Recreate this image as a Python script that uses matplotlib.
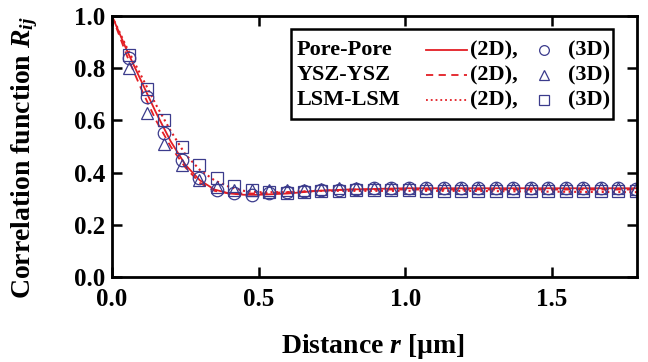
import numpy as np
import matplotlib
matplotlib.use("Agg")
import matplotlib.pyplot as plt
from matplotlib.patches import Rectangle

plt.rcParams['font.family'] = ['Liberation Serif', 'DejaVu Serif']
plt.rcParams['font.weight'] = 'bold'
plt.rcParams['mathtext.fontset'] = 'custom'
plt.rcParams['mathtext.it'] = 'Liberation Serif:italic:bold'
plt.rcParams['mathtext.rm'] = 'Liberation Serif:bold'

# 2D lines
r_line = [0.0, 0.05, 0.10, 0.15, 0.20, 0.25, 0.30, 0.35, 0.40, 0.45, 0.50, 0.60, 0.70, 0.80, 1.00, 1.20, 1.40, 1.60, 1.79]
pore_2d = [1.0, 0.87, 0.75, 0.63, 0.52, 0.43, 0.37, 0.335, 0.32, 0.315, 0.315, 0.32, 0.33, 0.335, 0.34, 0.34, 0.34, 0.34, 0.34]
ysz_2d = [1.0, 0.85, 0.72, 0.60, 0.50, 0.42, 0.36, 0.33, 0.32, 0.32, 0.32, 0.325, 0.33, 0.335, 0.335, 0.335, 0.335, 0.335, 0.335]
lsm_2d = [1.0, 0.88, 0.77, 0.66, 0.56, 0.47, 0.41, 0.37, 0.345, 0.33, 0.325, 0.325, 0.33, 0.33, 0.33, 0.33, 0.328, 0.326, 0.325]

# 3D points
r_pts = [0.0595 * k for k in range(1, 31)]
pore_3d = [0.84, 0.69, 0.55, 0.45, 0.38, 0.335, 0.32, 0.315, 0.32, 0.325, 0.33, 0.335, 0.335, 0.338, 0.34,
           0.34, 0.34, 0.34, 0.34, 0.34, 0.34, 0.34, 0.34, 0.34, 0.34, 0.34, 0.34, 0.34, 0.34, 0.338]
ysz_3d = [0.80, 0.63, 0.51, 0.43, 0.37, 0.345, 0.335, 0.335, 0.335, 0.335, 0.335, 0.338, 0.34, 0.34, 0.34,
          0.34, 0.34, 0.34, 0.34, 0.34, 0.34, 0.34, 0.34, 0.34, 0.34, 0.34, 0.34, 0.34, 0.34, 0.336]
lsm_3d = [0.85, 0.72, 0.60, 0.50, 0.43, 0.38, 0.35, 0.335, 0.325, 0.32, 0.325, 0.33, 0.33, 0.335, 0.335,
          0.335, 0.333, 0.33, 0.33, 0.33, 0.33, 0.33, 0.33, 0.33, 0.33, 0.33, 0.33, 0.33, 0.33, 0.33]

series_labels = ['Pore-Pore', 'YSZ-YSZ', 'LSM-LSM']
red = '#e31e24'
blue = '#3b3b8c'

fig = plt.figure(figsize=(6.48, 3.62), dpi=100)
ax = fig.add_axes([112/648, 1-277/362, (637-112)/648, (277-16)/362])

def ax_x(px):
    return (px - 112) / (637 - 112)
def ax_y(py):
    return (277 - py) / (277 - 16)

ax.plot(r_line, pore_2d, '-', color=red, lw=1.3)
ax.plot(r_line, ysz_2d, '--', color=red, lw=1.3, dashes=(4, 3))
ax.plot(r_line, lsm_2d, ':', color=red, lw=1.5)
mk = dict(ls='none', mfc='none', mec=blue, mew=0.9, ms=9)
ax.plot(r_pts, pore_3d, marker='o', **mk)
ax.plot(r_pts, ysz_3d, marker='^', **mk)
ax.plot(r_pts, lsm_3d, marker='s', **mk)

ax.set_xlim(0, 1.79)
ax.set_ylim(0, 1.0)
ax.set_xticks([0.0, 0.5, 1.0, 1.5])
ax.set_yticks([0.0, 0.2, 0.4, 0.6, 0.8, 1.0])
ax.xaxis.set_major_formatter(matplotlib.ticker.FormatStrFormatter('%.1f'))
ax.yaxis.set_major_formatter(matplotlib.ticker.FormatStrFormatter('%.1f'))
ax.tick_params(direction='in', length=7, width=1.8, top=True, right=True, labelsize=18)
ax.tick_params(axis='x', pad=8)
ax.tick_params(axis='y', pad=5)
for s in ax.spines.values():
    s.set_linewidth(2)
ax.set_xlabel('Distance $r$ [µm]', fontsize=20, fontweight='bold')
ax.set_ylabel('Correlation function $R_{ij}$', fontsize=20, fontweight='bold')
ax.xaxis.set_label_coords(ax_x(373), ax_y(332))
ax.yaxis.set_label_coords(ax_x(40), ax_y(158))

# manual legend
tr = ax.transAxes
ax.add_patch(Rectangle((ax_x(291), ax_y(119)), ax_x(613) - ax_x(291), ax_y(29) - ax_y(119),
                       transform=tr, fill=True, fc='white', ec='black', lw=1.8, zorder=5))
rows_y = [50, 75, 100]
styles = [dict(ls='-'), dict(ls='--', dashes=(4, 3)), dict(ls=':')]
markers = ['o', '^', 's']
for lab, py, st, m in zip(series_labels, rows_y, styles, markers):
    y = ax_y(py)
    ax.text(ax_x(297), y, lab, transform=tr, fontsize=16, fontweight='bold', va='center', ha='left', zorder=6)
    ax.plot([ax_x(426), ax_x(467)], [y, y], transform=tr, color=red, lw=1.3, zorder=6, **st)
    ax.text(ax_x(470), y, '(2D),', transform=tr, fontsize=16, fontweight='bold', va='center', ha='left', zorder=6)
    ax.plot([ax_x(544)], [y], transform=tr, marker=m, ls='none', mfc='none', mec=blue, mew=0.9, ms=7, zorder=6)
    ax.text(ax_x(568), y, '(3D)', transform=tr, fontsize=16, fontweight='bold', va='center', ha='left', zorder=6)

fig.savefig('out.png', dpi=100)
